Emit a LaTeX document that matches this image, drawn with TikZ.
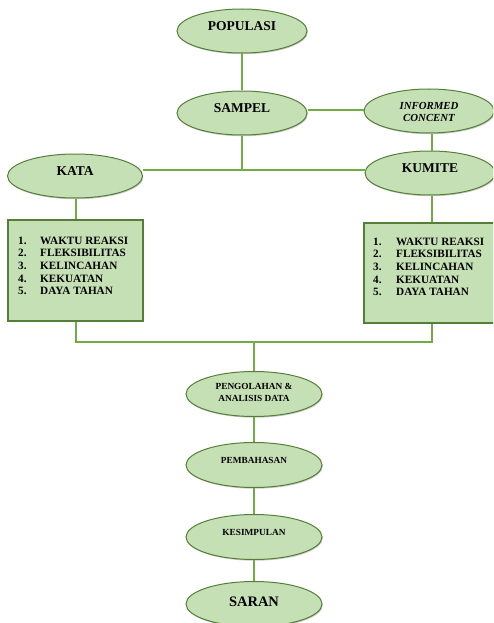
\documentclass[tikz,border=0pt]{standalone}
\usepackage{fontspec}
\setmainfont{Liberation Serif}
\usetikzlibrary{shapes.geometric,shadows}
\definecolor{efill}{HTML}{C5E0B4}
\definecolor{edraw}{HTML}{557F38}
\definecolor{conn}{HTML}{70AD47}
\newcommand\etext[2][-0.5pt]{\raisebox{#1}[0pt][0pt]{\begin{tabular}{@{}c@{}}#2\end{tabular}}}
\tikzset{
  ell/.style={ellipse, draw=edraw, fill=efill, line width=1pt, inner sep=0pt,
    minimum width=130pt, minimum height=44pt, font=\bfseries\fontsize{13.5}{15}\selectfont,
    drop shadow={shadow xshift=0.8pt, shadow yshift=-1.2pt, opacity=0.35, fill=black!60}},
  sell/.style={ell, minimum width=136pt, minimum height=45pt, font=\bfseries\fontsize{9.3}{12}\selectfont},
  box/.style={rectangle, draw=edraw, fill=efill, line width=1.3pt, inner sep=0pt,
    drop shadow={shadow xshift=0.8pt, shadow yshift=-1.2pt, opacity=0.35, fill=black!60}},
  listtext/.style={inner sep=0pt, anchor=base west, font=\bfseries\fontsize{11.2}{12.7}\selectfont},
  cn/.style={draw=conn, line width=1.3pt}
}
\begin{document}
\begin{tikzpicture}[x=1pt,y=-1pt]
\useasboundingbox (0,0) rectangle (493,623);
\clip (0,0) rectangle (493,623);
\node[ell] (pop) at (242,31) {\etext{POPULASI}};
\node[ell] (sam) at (242,113) {\etext{SAMPEL}};
\node[ell, font=\bfseries\itshape\fontsize{10.8}{11.5}\selectfont] (inf) at (429,111) {\etext[-5pt]{INFORMED\\CONCENT}};
\node[ell, minimum width=135pt] (kata) at (75,176) {\etext{KATA}};
\node[ell] (kum) at (430,173) {\etext{KUMITE}};
\node[box, minimum width=135pt, minimum height=101pt] (boxl) at (75.5,270.5) {};
\node[box, minimum width=134pt, minimum height=100pt] (boxr) at (431,273) {};
\node[listtext] (listl) at (18,244) {\begin{tabular}[t]{@{}p{22pt}@{}l@{}}1.&WAKTU REAKSI\\2.&FLEKSIBILITAS\\3.&KELINCAHAN\\4.&KEKUATAN\\5.&DAYA TAHAN\end{tabular}};
\node[listtext] (listr) at (373,245) {\begin{tabular}[t]{@{}p{23pt}@{}l@{}}1.&WAKTU REAKSI\\2.&FLEKSIBILITAS\\3.&KELINCAHAN\\4.&KEKUATAN\\5.&DAYA TAHAN\end{tabular}};
\node[sell] (peng) at (254,394) {\etext[-1pt]{PENGOLAHAN \&\\ANALISIS DATA}};
\node[sell] (pemb) at (254,465) {\etext[2pt]{PEMBAHASAN}};
\node[sell] (kes) at (254,537) {\etext[2pt]{KESIMPULAN}};
\node[sell, font=\bfseries\fontsize{14.5}{16}\selectfont] (sar) at (254,604) {\etext[-3pt]{SARAN}};
\coordinate (j1) at (242,170);
\coordinate (j2) at (254,342);
\path[cn] (pop) -- (sam);
\path[cn] (sam.east |- 0,110) -- (inf.west |- 0,110);
\path[cn] (inf.south -| 432,0) -- (kum.north -| 432,0);
\path[cn] (sam) -- (j1);
\path[cn] (kata.east |- j1) -- (kum.west |- j1);
\path[cn] (kata.south -| 76,0) -- (boxl.north -| 76,0);
\path[cn] (kum.south -| 432,0) -- (boxr.north -| 432,0);
\path[cn] (boxl.south -| 76,0) -- (j2 -| 76,0) -- (j2 -| 432,0) -- (boxr.south -| 432,0);
\path[cn] (j2) -- (peng);
\path[cn] (peng) -- (pemb);
\path[cn] (pemb) -- (kes);
\path[cn] (kes) -- (sar);
\end{tikzpicture}
\end{document}
